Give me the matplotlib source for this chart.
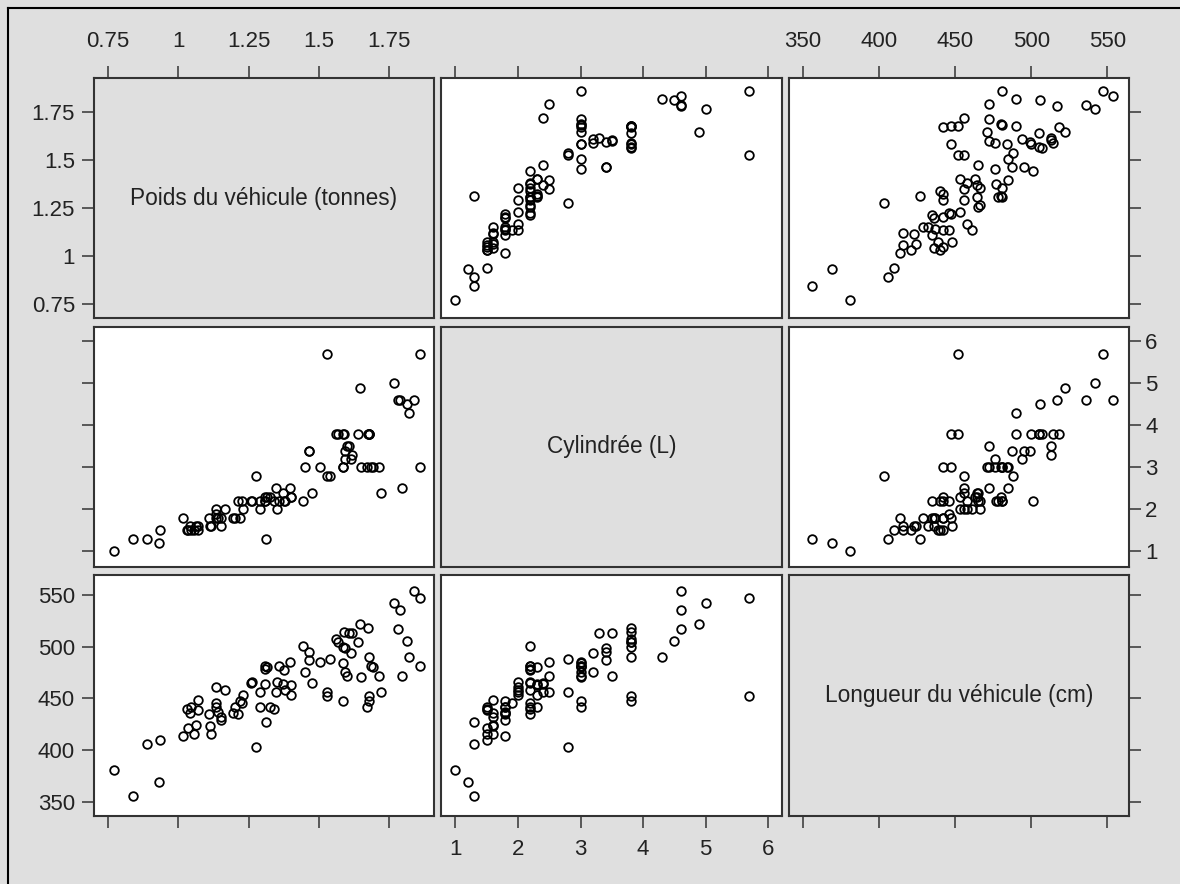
import matplotlib
matplotlib.use("Agg")
import matplotlib.pyplot as plt
from matplotlib.lines import Line2D

plt.rcParams['font.family'] = ['Liberation Sans', 'DejaVu Sans']

# one entry per vehicle
poids = [0.77, 0.84, 0.89, 0.935, 0.93, 1.015, 1.03, 1.046, 1.042, 1.033,
         1.057, 1.063, 1.07, 1.07, 1.108, 1.114, 1.118, 1.135, 1.135, 1.135,
         1.142, 1.152, 1.153, 1.166, 1.196, 1.212, 1.203, 1.22, 1.23, 1.257,
         1.264, 1.278, 1.291, 1.291, 1.309, 1.309, 1.309, 1.311, 1.325, 1.339,
         1.353, 1.357, 1.376, 1.348, 1.373, 1.38, 1.40, 1.40, 1.396, 1.445,
         1.466, 1.466, 1.452, 1.476, 1.506, 1.539, 1.529, 1.529, 1.563, 1.57,
         1.59, 1.607, 1.585, 1.595, 1.613, 1.64, 1.618, 1.585, 1.592, 1.599,
         1.585, 1.646, 1.676, 1.65, 1.68, 1.685, 1.692, 1.716, 1.72, 1.679,
         1.679, 1.672, 1.768, 1.79, 1.781, 1.815, 1.822, 1.795, 1.838, 1.86,
         1.86, 1.225, 1.315]
cylindree = [1.0, 1.3, 1.3, 1.5, 1.2, 1.8, 1.5, 1.5, 1.6, 1.5,
             1.5, 1.6, 1.6, 1.5, 1.8, 1.6, 1.6, 2.0, 1.9, 1.8,
             1.8, 1.6, 1.8, 2.0, 1.8, 2.2, 1.8, 1.8, 2.0, 2.2,
             2.2, 2.8, 2.0, 2.2, 2.2, 2.2, 2.3, 1.3, 2.3, 2.2,
             2.0, 2.2, 2.2, 2.5, 2.4, 2.2, 2.3, 2.3, 2.5, 2.2,
             3.4, 3.4, 3.0, 2.4, 3.0, 2.8, 2.8, 5.7, 3.8, 3.8,
             3.8, 3.5, 3.8, 3.4, 3.2, 3.8, 3.3, 3.0, 3.2, 3.5,
             3.0, 4.9, 3.8, 3.0, 3.8, 3.0, 3.0, 3.0, 2.4, 3.8,
             3.8, 3.0, 5.0, 4.6, 4.6, 4.5, 4.3, 2.5, 4.6, 5.7,
             3.0, 2.2, 2.3]
longueur = [381, 356, 406, 410, 369, 414, 440, 442, 436, 421,
            416, 424, 448, 439, 435, 423, 416, 461, 446, 442,
            437, 432, 429, 458, 436, 435, 442, 447, 453, 465,
            466, 403, 456, 442, 481, 478, 464, 427, 442, 440,
            466, 481, 477, 456, 464, 458, 463, 453, 485, 501,
            495, 487, 476, 465, 485, 488, 456, 452, 507, 505,
            514, 513, 500, 499, 494, 505, 513, 484, 476, 472,
            447, 522, 518, 471, 490, 481, 480, 472, 456, 452,
            447, 442, 542, 536, 517, 506, 490, 472, 554, 547,
            481, 446, 480]

noms = ["Poids du véhicule (tonnes)", "Cylindrée (L)", "Longueur du véhicule (cm)"]
ticks_poids = [0.75, 1, 1.25, 1.5, 1.75]
labels_poids = ["0.75", "1", "1.25", "1.5", "1.75"]
ticks_cyl = [1, 2, 3, 4, 5, 6]
labels_cyl = ["1", "2", "3", "4", "5", "6"]
ticks_long = [350, 400, 450, 500, 550]
labels_long = ["350", "400", "450", "500", "550"]

donnees = [poids, cylindree, longueur]
ticks = [ticks_poids, ticks_cyl, ticks_long]
labels = [labels_poids, labels_cyl, labels_long]
# axis ranges when the variable is on x / on y
lim_x = [(0.70, 1.91), (0.77, 6.22), (340.8, 564.2)]
lim_y = [(0.675, 1.93), (0.63, 6.345), (336.2, 569.4)]

W, H = 1180, 884
fond = '#dfdfdf'
trait = '#333333'
texte = '#222222'

fig = plt.figure(figsize=(W / 100, H / 100), dpi=100, facecolor=fond)

cols = [(94, 434), (441, 782), (789, 1129)]
rows = [(78, 318), (327, 567), (575, 816)]

for i, (y0, y1) in enumerate(rows):
    for j, (x0, x1) in enumerate(cols):
        ax = fig.add_axes([x0 / W, 1 - y1 / H, (x1 - x0) / W, (y1 - y0) / H])
        if i == j:
            ax.set_facecolor(fond)
            ax.text(0.5, 0.5, noms[i], transform=ax.transAxes, ha='center',
                    va='center', fontsize=16.3, color=texte)
        else:
            ax.set_facecolor('white')
            ax.plot(donnees[j], donnees[i], 'o', ms=6.2, mfc='none',
                    mec='black', mew=1.3, clip_on=False)
        ax.set_xlim(lim_x[j])
        ax.set_ylim(lim_y[i])
        ax.set_xticks(ticks[j], labels[j])
        ax.set_yticks(ticks[i], labels[i])
        for s in ax.spines.values():
            s.set_color(trait)
            s.set_linewidth(1.5)
        ax.tick_params(direction='out', length=8.6, width=1.1, color=trait,
                       labelsize=16, labelcolor=texte,
                       top=(i == 0), bottom=(i == 2),
                       left=(j == 0), right=(j == 2),
                       labeltop=(i == 0 and j != 1),
                       labelbottom=(i == 2 and j == 1),
                       labelleft=(j == 0 and i != 1),
                       labelright=(j == 2 and i == 1))
        ax.tick_params(axis='x', pad=10 if i == 0 else 8)
        ax.tick_params(axis='y', pad=5 if j == 0 else 3)

# outer frame, left and top edges
fig.add_artist(Line2D([8 / W, 8 / W], [0, 1 - 8 / H], transform=fig.transFigure,
                      color='black', lw=1.5))
fig.add_artist(Line2D([8 / W, 1], [1 - 8 / H, 1 - 8 / H], transform=fig.transFigure,
                      color='black', lw=1.5))

plt.savefig("out.png", dpi=100, facecolor=fond)
